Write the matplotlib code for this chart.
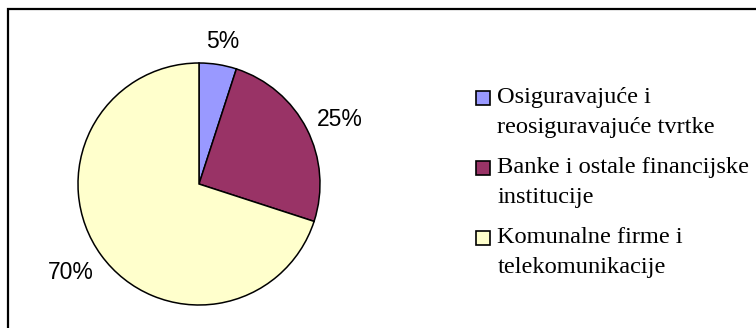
import matplotlib
matplotlib.use("Agg")
import numpy as np
import matplotlib.pyplot as plt
from matplotlib.patches import Rectangle, Patch
from matplotlib.legend_handler import HandlerPatch

# dane
categories = [
    "Osiguravajuće i\nreosiguravajuće tvrtke",
    "Banke i ostale financijske\ninstitucije",
    "Komunalne firme i\ntelekomunikacije",
]
shares = [5, 25, 70]
colors = ["#9999FF", "#993366", "#FFFFCC"]

W, H = 756, 328
fig = plt.figure(figsize=(W / 100, H / 100), dpi=100)

# okvir (desni i donji rub izvan slike)
fig.patches.append(Rectangle((8 / W, -1), 2, 1 - 9 / H + 1, transform=fig.transFigure,
                             fill=False, edgecolor="black", linewidth=1.6))

cx, cy, r = 199, 184, 121
ax = fig.add_axes([(cx - r) / W, (H - cy - r) / H, 2 * r / W, 2 * r / H])
wedges, _, autotexts = ax.pie(
    shares,
    colors=colors,
    startangle=90,
    counterclock=False,
    autopct="%1.0f%%",
    pctdistance=1.25,
    wedgeprops=dict(edgecolor="black", linewidth=1.1),
    textprops=dict(fontsize=16.5, family="Liberation Sans", color="black"),
)
ax.set_xlim(-1, 1)
ax.set_ylim(-1, 1)
ax.set_aspect("equal")
ax.axis("off")

# postoci izvan kruga, kao u Excelu: tekst se odmiče od ruba za pola svoje veličine
fig.canvas.draw()
renderer = fig.canvas.get_renderer()
for w, t in zip(wedges, autotexts):
    ang = np.deg2rad((w.theta1 + w.theta2) / 2)
    bb = t.get_window_extent(renderer)
    hw = bb.width / 2 / r
    hh = bb.height / 2 / r
    c, s = np.cos(ang), np.sin(ang)
    t.set_position((1.12 * c + hw * c, 1.12 * s + hh * s - 0.02))


# kvadratić uz prvi redak opisa, ne po sredini
def top_square(legend, orig_handle, xdescent, ydescent, width, height, fontsize):
    return Rectangle((-xdescent, -ydescent + height + 0.1 * fontsize - width), width, width)


handles = [Patch(facecolor=c, edgecolor="black", linewidth=1.2) for c in colors]
leg = fig.legend(
    handles, categories,
    loc="upper left",
    bbox_to_anchor=(476 / W, 1 - 87 / H),
    frameon=False,
    prop=dict(family="Liberation Serif", size=17.6),
    handlelength=0.57, handleheight=2.0,
    handletextpad=0.3, labelspacing=0.78,
    borderpad=0, borderaxespad=0,
    handler_map={Patch: HandlerPatch(patch_func=top_square)},
)
for t in leg.get_texts():
    t.set_linespacing(1.56)

fig.savefig("out.png", dpi=100)
